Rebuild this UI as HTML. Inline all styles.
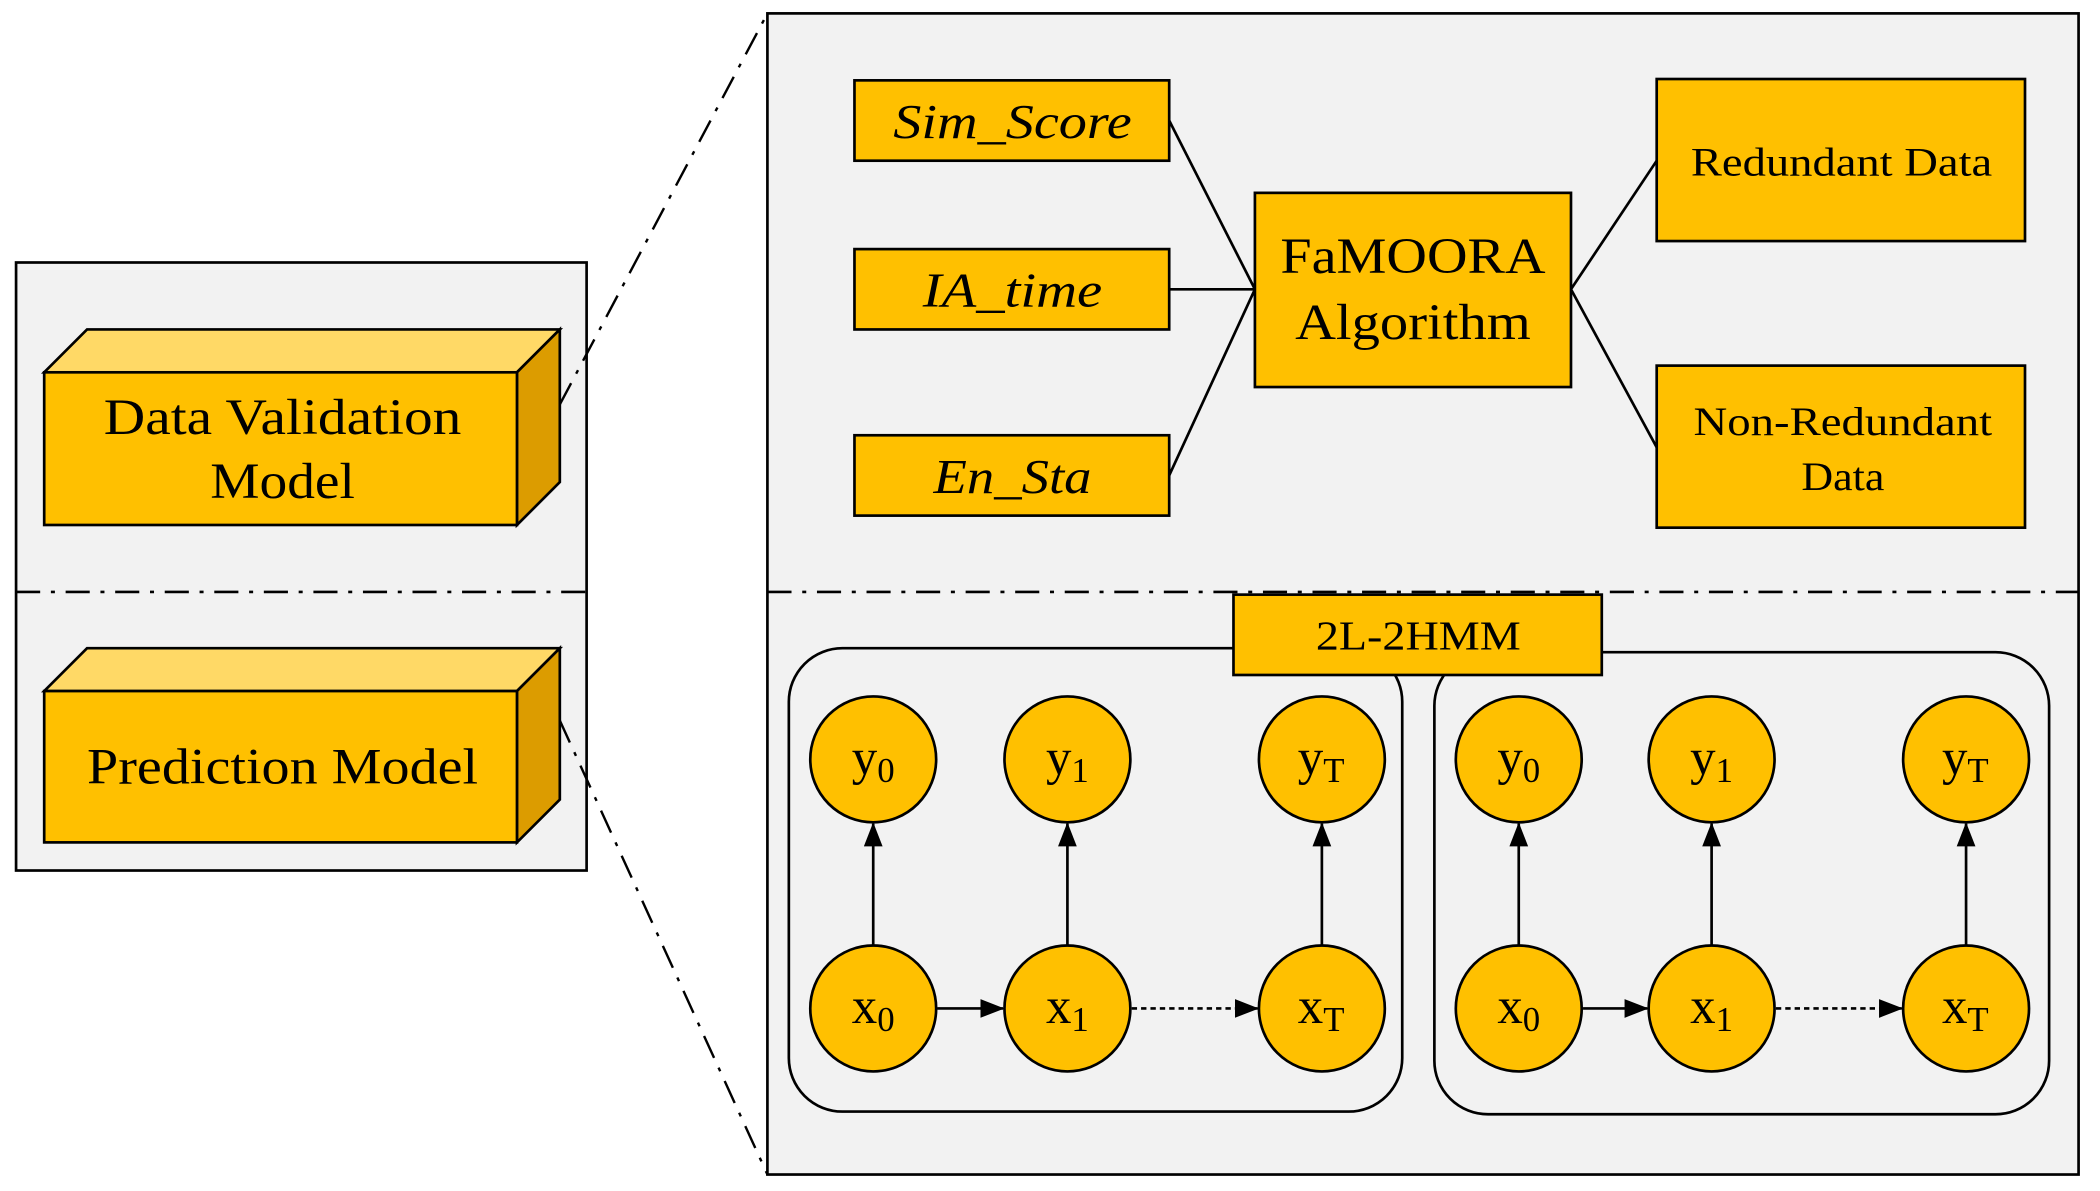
<!DOCTYPE html>
<html><head><meta charset="utf-8"><style>
html,body{margin:0;padding:0;background:#fff;}
svg{display:block;}
text{font-family:"Liberation Serif",serif;fill:#000;}
</style></head><body>
<svg width="2100" height="1191" viewBox="0 0 1568 889.3" preserveAspectRatio="none" xmlns="http://www.w3.org/2000/svg">
<defs>
<marker id="ah" markerWidth="18" markerHeight="16" refX="17" refY="7" orient="auto" markerUnits="userSpaceOnUse">
<path d="M0,0 L18,7 L0,14 z" fill="#000"/>
</marker>
</defs>
<!-- left panel -->
<rect x="12" y="196" width="426" height="454" fill="#f2f2f2" stroke="#000" stroke-width="2"/>
<line x1="12" y1="442" x2="438" y2="442" stroke="#000" stroke-width="2" stroke-dasharray="18,8,3,8"/>
<!-- cube 1 -->
<polygon points="33,278 65,246 418,246 386,278" fill="#ffd966" stroke="#000" stroke-width="2"/>
<polygon points="386,278 418,246 418,360 386,392" fill="#dc9c00" stroke="#000" stroke-width="2"/>
<rect x="33" y="278" width="353" height="114" fill="#ffc000" stroke="#000" stroke-width="2"/>
<text x="211" y="324" font-size="38" text-anchor="middle" textLength="267" lengthAdjust="spacingAndGlyphs">Data Validation</text>
<text x="211" y="372" font-size="38" text-anchor="middle" textLength="108" lengthAdjust="spacingAndGlyphs">Model</text>
<!-- cube 2 -->
<polygon points="33,516 65,484 418,484 386,516" fill="#ffd966" stroke="#000" stroke-width="2"/>
<polygon points="386,516 418,484 418,597 386,629" fill="#dc9c00" stroke="#000" stroke-width="2"/>
<rect x="33" y="516" width="353" height="113" fill="#ffc000" stroke="#000" stroke-width="2"/>
<text x="211" y="585" font-size="38" text-anchor="middle" textLength="292" lengthAdjust="spacingAndGlyphs">Prediction Model</text>
<!-- zoom lines -->
<line x1="418" y1="302" x2="573" y2="10" stroke="#000" stroke-width="1.8" stroke-dasharray="18,8,3,8"/>
<line x1="418" y1="538" x2="573" y2="877" stroke="#000" stroke-width="1.8" stroke-dasharray="18,8,3,8"/>
<!-- right panel -->
<rect x="573" y="10" width="979" height="867" fill="#f2f2f2" stroke="#000" stroke-width="2"/>
<line x1="573" y1="442" x2="1552" y2="442" stroke="#000" stroke-width="2" stroke-dasharray="18,8,3,8"/>
<!-- connectors top -->
<g stroke="#000" stroke-width="2">
<line x1="873" y1="90" x2="937" y2="216"/>
<line x1="873" y1="216" x2="937" y2="216"/>
<line x1="873" y1="355" x2="937" y2="216"/>
<line x1="1173" y1="216" x2="1237" y2="120"/>
<line x1="1173" y1="216" x2="1237" y2="334"/>
</g>
<g fill="#ffc000" stroke="#000" stroke-width="2">
<rect x="638" y="60" width="235" height="60"/>
<rect x="638" y="186" width="235" height="60"/>
<rect x="638" y="325" width="235" height="60"/>
<rect x="937" y="144" width="236" height="145"/>
<rect x="1237" y="59" width="275" height="121"/>
<rect x="1237" y="273" width="275" height="121"/>
</g>
<g font-style="italic" font-size="36" text-anchor="middle">
<text x="756" y="103" textLength="178" lengthAdjust="spacingAndGlyphs">Sim_Score</text>
<text x="756" y="229" textLength="134" lengthAdjust="spacingAndGlyphs">IA_time</text>
<text x="756" y="368" textLength="118" lengthAdjust="spacingAndGlyphs">En_Sta</text>
</g>
<text x="1055" y="204" font-size="38" text-anchor="middle" textLength="198" lengthAdjust="spacingAndGlyphs">FaMOORA</text>
<text x="1055" y="253" font-size="38" text-anchor="middle" textLength="176" lengthAdjust="spacingAndGlyphs">Algorithm</text>
<text x="1375" y="131" font-size="30" text-anchor="middle" textLength="225" lengthAdjust="spacingAndGlyphs">Redundant Data</text>
<text x="1376" y="325" font-size="30" text-anchor="middle" textLength="223" lengthAdjust="spacingAndGlyphs">Non-Redundant</text>
<text x="1376" y="366" font-size="30" text-anchor="middle" textLength="62" lengthAdjust="spacingAndGlyphs">Data</text>
<!-- HMM groups -->
<rect x="589" y="484" width="458" height="346" rx="40" fill="#f2f2f2" stroke="#000" stroke-width="2"/>
<rect x="1071" y="487" width="459" height="345" rx="40" fill="#f2f2f2" stroke="#000" stroke-width="2"/>
<rect x="921" y="444" width="275" height="60" fill="#ffc000" stroke="#000" stroke-width="2"/>
<text x="1059" y="485" font-size="31" text-anchor="middle" textLength="153" lengthAdjust="spacingAndGlyphs">2L-2HMM</text>
<g stroke="#000" stroke-width="2">
<line x1="652" y1="706" x2="652" y2="615" marker-end="url(#ah)"/>
<line x1="797" y1="706" x2="797" y2="615" marker-end="url(#ah)"/>
<line x1="987" y1="706" x2="987" y2="615" marker-end="url(#ah)"/>
<line x1="700" y1="753" x2="749" y2="753" marker-end="url(#ah)"/>
<line x1="845" y1="753" x2="939" y2="753" stroke-dasharray="4,3" marker-end="url(#ah)"/>
<line x1="1134" y1="706" x2="1134" y2="615" marker-end="url(#ah)"/>
<line x1="1278" y1="706" x2="1278" y2="615" marker-end="url(#ah)"/>
<line x1="1468" y1="706" x2="1468" y2="615" marker-end="url(#ah)"/>
<line x1="1182" y1="753" x2="1230" y2="753" marker-end="url(#ah)"/>
<line x1="1326" y1="753" x2="1420" y2="753" stroke-dasharray="4,3" marker-end="url(#ah)"/>
</g>
<g fill="#ffc000" stroke="#000" stroke-width="2">
<circle cx="652" cy="567" r="47"/><circle cx="797" cy="567" r="47"/><circle cx="987" cy="567" r="47"/>
<circle cx="652" cy="753" r="47"/><circle cx="797" cy="753" r="47"/><circle cx="987" cy="753" r="47"/>
<circle cx="1134" cy="567" r="47"/><circle cx="1278" cy="567" r="47"/><circle cx="1468" cy="567" r="47"/>
<circle cx="1134" cy="753" r="47"/><circle cx="1278" cy="753" r="47"/><circle cx="1468" cy="753" r="47"/>
</g>
<g font-size="38">
<text x="636" y="578">y<tspan font-size="26" dy="6">0</tspan></text>
<text x="781" y="578">y<tspan font-size="26" dy="6">1</tspan></text>
<text x="969" y="578">y<tspan font-size="26" dy="6">T</tspan></text>
<text x="636" y="764">x<tspan font-size="26" dy="6">0</tspan></text>
<text x="781" y="764">x<tspan font-size="26" dy="6">1</tspan></text>
<text x="969" y="764">x<tspan font-size="26" dy="6">T</tspan></text>
<text x="1118" y="578">y<tspan font-size="26" dy="6">0</tspan></text>
<text x="1262" y="578">y<tspan font-size="26" dy="6">1</tspan></text>
<text x="1450" y="578">y<tspan font-size="26" dy="6">T</tspan></text>
<text x="1118" y="764">x<tspan font-size="26" dy="6">0</tspan></text>
<text x="1262" y="764">x<tspan font-size="26" dy="6">1</tspan></text>
<text x="1450" y="764">x<tspan font-size="26" dy="6">T</tspan></text>
</g>
</svg>
</body></html>
